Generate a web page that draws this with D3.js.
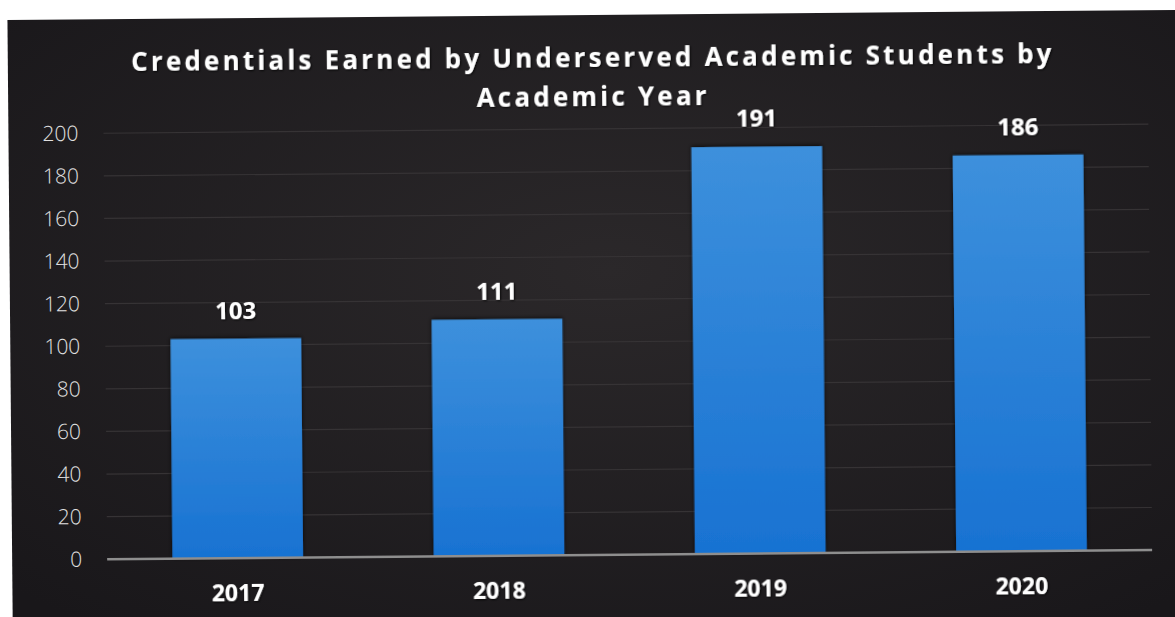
<!DOCTYPE html>
<html>
<head>
<meta charset="utf-8">
<script src="https://cdn.jsdelivr.net/npm/d3@7/dist/d3.min.js"></script>
<style>
  html, body { margin: 0; padding: 0; background: #ffffff; }
  svg { display: block; }
</style>
</head>
<body>
<svg id="chart" width="1175" height="617"></svg>
<script>
// Credentials earned per academic year
const years = ["2017", "2018", "2019", "2020"];
const credentials = [103, 111, 191, 186];
const yTicks = [0, 20, 40, 60, 80, 100, 120, 140, 160, 180, 200];
const titleLines = ["Credentials Earned by Underserved Academic Students by", "Academic Year"];

const W = 1175, H = 617;
const svg = d3.select("#chart");
const defs = svg.append("defs");

// dark panel backdrop
const bg = defs.append("radialGradient").attr("id", "panelBg")
  .attr("cx", "50%").attr("cy", "40%").attr("r", "70%");
bg.append("stop").attr("offset", "0%").attr("stop-color", "#2b282a");
bg.append("stop").attr("offset", "100%").attr("stop-color", "#19171a");

// bar fill: lighter at the top
const barGrad = defs.append("linearGradient").attr("id", "barFill")
  .attr("x1", 0).attr("y1", 0).attr("x2", 0).attr("y2", 1);
barGrad.append("stop").attr("offset", "0%").attr("stop-color", "#3d90dc");
barGrad.append("stop").attr("offset", "100%").attr("stop-color", "#1872d2");

const shadow = defs.append("filter").attr("id", "barShadow")
  .attr("x", "-10%").attr("y", "-10%").attr("width", "120%").attr("height", "120%");
shadow.append("feDropShadow").attr("dx", 0).attr("dy", -1).attr("stdDeviation", 2)
  .attr("flood-color", "#000").attr("flood-opacity", 0.7);

const textShadow = defs.append("filter").attr("id", "textShadow");
textShadow.append("feDropShadow").attr("dx", 1).attr("dy", 1).attr("stdDeviation", 1)
  .attr("flood-color", "#000").attr("flood-opacity", 0.8);

// whole panel sits slightly tilted on the page
const root = svg.append("g").attr("transform", "rotate(-0.5 590 310)");

root.append("rect").attr("x", 10).attr("y", 15).attr("width", 1200).attr("height", 640)
  .attr("fill", "url(#panelBg)");

const plot = { left: 105, right: 1150, top: 129, bottom: 555 };

const x = d3.scaleBand().domain(years).range([plot.left, plot.right])
  .paddingInner(0.5).paddingOuter(0.25);
const y = d3.scaleLinear().domain([0, 200]).range([plot.bottom, plot.top]);

// gridlines
root.append("g").selectAll("line").data(yTicks.filter(t => t > 0)).join("line")
  .attr("x1", plot.left).attr("x2", plot.right)
  .attr("y1", d => y(d)).attr("y2", d => y(d))
  .attr("stroke", "#363335").attr("stroke-width", 1.2);

// y axis labels
const yAxis = d3.axisLeft(y).tickValues(yTicks).tickSize(0).tickPadding(0);
const yG = root.append("g").attr("transform", "translate(80,0)").call(yAxis);
yG.select(".domain").remove();
yG.selectAll("text")
  .attr("fill", "#e0e0e0")
  .style("font-family", "'Open Sans', 'DejaVu Sans', sans-serif")
  .style("font-weight", 300)
  .style("font-size", "21px");

// bars
root.append("g").selectAll("rect").data(years).join("rect")
  .attr("x", d => x(d))
  .attr("y", (d, i) => y(credentials[i]))
  .attr("width", x.bandwidth())
  .attr("height", (d, i) => y(0) - y(credentials[i]))
  .attr("fill", "url(#barFill)")
  .attr("filter", "url(#barShadow)");

// baseline
root.append("line").attr("x1", plot.left).attr("x2", plot.right)
  .attr("y1", y(0)).attr("y2", y(0))
  .attr("stroke", "#8e8e8e").attr("stroke-width", 2.5);

// value labels
root.append("g").selectAll("text").data(years).join("text")
  .attr("x", d => x(d) + x.bandwidth() / 2)
  .attr("y", (d, i) => y(credentials[i]) - 20)
  .attr("text-anchor", "middle")
  .attr("fill", "#ffffff")
  .attr("filter", "url(#textShadow)")
  .style("font-family", "'Open Sans', sans-serif")
  .style("font-weight", 700)
  .style("font-size", "24px")
  .text((d, i) => credentials[i]);

// category labels
const xAxis = d3.axisBottom(x).tickSize(0).tickPadding(0);
const xG = root.append("g").attr("transform", `translate(0,${plot.bottom + 27})`).call(xAxis);
xG.select(".domain").remove();
xG.selectAll("text")
  .attr("fill", "#ffffff")
  .attr("filter", "url(#textShadow)")
  .style("font-family", "'Open Sans', sans-serif")
  .style("font-weight", 700)
  .style("font-size", "23px");

// title
root.append("g").selectAll("text").data(titleLines).join("text")
  .attr("x", 595)
  .attr("y", (d, i) => 67 + i * 39)
  .attr("text-anchor", "middle")
  .attr("fill", "#ffffff")
  .attr("filter", "url(#textShadow)")
  .style("font-family", "'Open Sans', sans-serif")
  .style("font-weight", 700)
  .style("font-size", "26px")
  .style("letter-spacing", "3.2px")
  .text(d => d);
</script>
</body>
</html>
